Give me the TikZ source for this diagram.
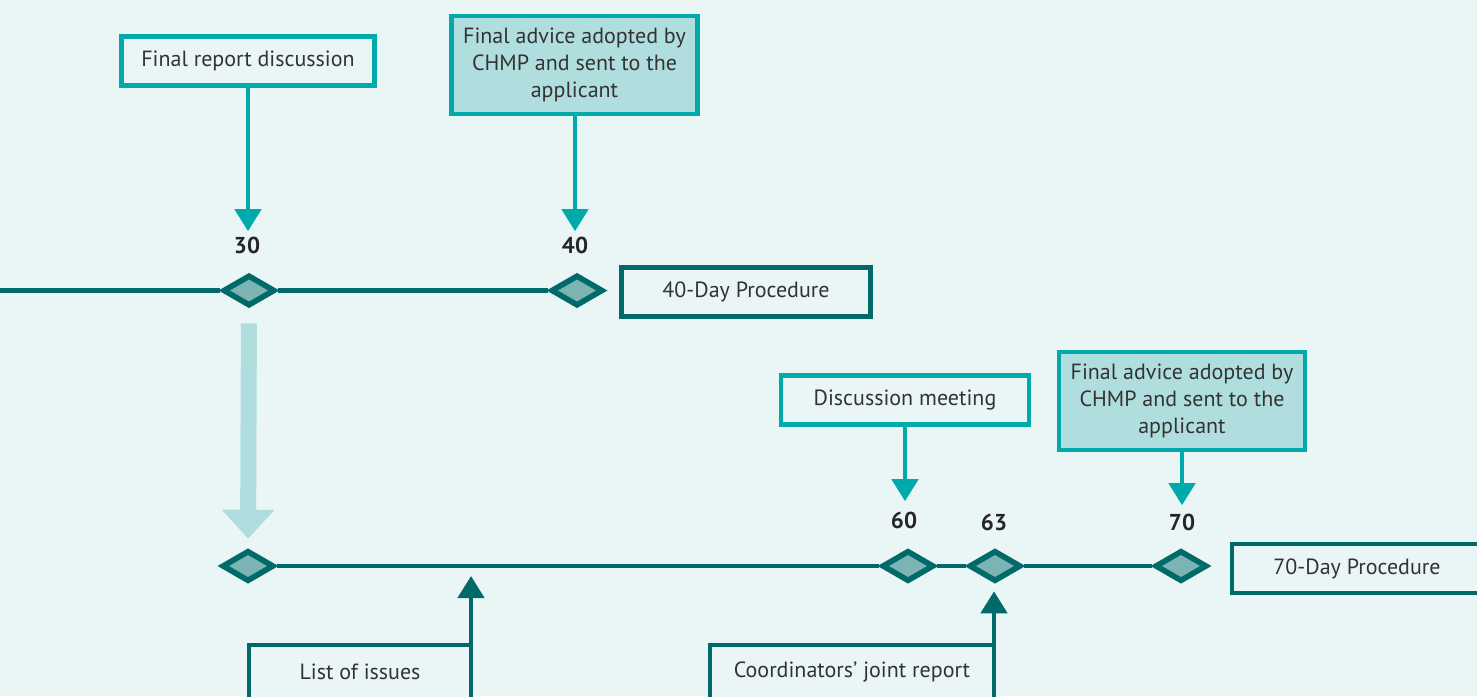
\documentclass[tikz,border=0pt]{standalone}
\usepackage{fontspec}
\setmainfont{PT Sans}
\usetikzlibrary{arrows.meta,shapes.geometric}

\definecolor{bgmint}{HTML}{EAF6F6}
\definecolor{darkteal}{HTML}{00696A}
\definecolor{brightteal}{HTML}{00AAAA}
\definecolor{paleteal}{HTML}{B0DEDF}
\definecolor{midteal}{HTML}{7CB3B3}
\definecolor{inkgray}{HTML}{333333}

\begin{document}
\begin{tikzpicture}[x=0.5pt,y=-0.5pt,
  box/.style={draw,line width=2.3pt,inner sep=0pt,outer sep=0pt,text=inkgray,align=center,
    font=\fontsize{11}{13.5}\selectfont,minimum height=24.5pt},
  procbox/.style={box,draw=darkteal,fill=bgmint},
  evbox/.style={box,draw=brightteal,fill=bgmint},
  advbox/.style={box,draw=brightteal,fill=paleteal,minimum height=49pt},
  stone/.style={diamond,draw=darkteal,fill=midteal,line width=2.8pt,
    minimum width=26pt,minimum height=15.5pt,inner sep=0pt},
  daynum/.style={inner sep=0pt,text=black!85,font=\bfseries\fontsize{11.5}{12}\selectfont},
  tline/.style={draw=darkteal,line width=2.25pt},
  evarrow/.style={draw=brightteal,line width=2.3pt,-{Triangle[width=13pt,length=11pt]}},
  uparrow/.style={draw=darkteal,line width=2.3pt,-{Triangle[width=13pt,length=11pt]}},
  bigarrow/.style={draw=paleteal,line width=8pt,-{Triangle[width=25.5pt,length=14.5pt]}}]

% background
\fill[bgmint] (0,0) rectangle (1477,696);
\useasboundingbox (0,0) rectangle (1477,696);
\clip (0,0) rectangle (1477,696);

\newcommand\daymark[3]{ \node[stone] (#1) at (#2,#3) {}; }

% 40-day procedure
\coordinate (start40) at (0,290.5);
\daymark{d30}{249}{290.5}
\daymark{d40}{577}{290.5}
\path[tline] (start40) -- (d30.west);
\path[tline] (d30.east) -- (d40.west);
\node[procbox,minimum width=124.5pt] (day40) at (746,292) {40-Day Procedure};

\node[daynum] (n30) at (247,245) {30};
\node[daynum] (n40) at (575,245) {40};

\node[evbox,minimum width=126.5pt] (rep) at (248,61) {Final report discussion};
\node[advbox,minimum width=123pt] (adv40) at (574.5,65)
  {Final advice adopted by\\CHMP and sent to the\\applicant};

\path[evarrow,shorten >=2.5pt] (rep.south) -- (rep.south |- n30.north);
\path[evarrow,shorten >=2.5pt] (adv40.south -| n40) -- (n40.north);

% 70-day procedure
\daymark{ds}{248}{566}
\daymark{d60}{908}{566}
\daymark{d63}{995}{566}
\daymark{d70}{1181}{566}
\path[tline] (ds.east) -- (d60.west);
\path[tline] (d60.east) -- (d63.west);
\path[tline] (d63.east) -- (d70.west);
\node[procbox,minimum width=125pt] (day70) at (1357,568.5) {70-Day Procedure};

\path[bigarrow,shorten <=7.25pt,shorten >=4.5pt] (d30.south) -- (ds.north);

\node[daynum] (n60) at (904,520) {60};
\node[daynum] (n63) at (994,522) {63};
\node[daynum] (n70) at (1182,522) {70};

\node[evbox,minimum width=124pt] (disc) at (905,400) {Discussion meeting};
\node[advbox,minimum width=123pt] (adv70) at (1182,401)
  {Final advice adopted by\\CHMP and sent to the\\applicant};

\path[evarrow,shorten >=5pt] (disc.south) -- (disc.south |- n60.north);
\path[evarrow,shorten >=4pt] (adv70.south -| n70) -- (n70.north);

% inputs from below
\node[procbox,minimum width=111pt,minimum height=27pt] (issues) at (360,672) {List of issues};
\node[procbox,minimum width=142pt,minimum height=27pt] (joint) at (852,672) {Coordinators’ joint report};
\coordinate (loi) at (471,576);

\path[uparrow] (issues.north east) -- (loi);
\path[uparrow,shorten >=3.5pt] (joint.north east) -- (joint.north east |- d63.south);
\end{tikzpicture}
\end{document}
